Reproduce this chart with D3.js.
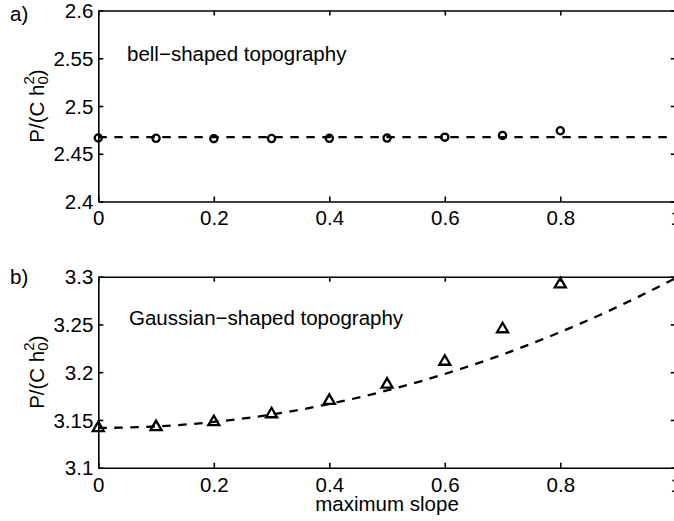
<!DOCTYPE html>
<html>
<head>
<meta charset="utf-8">
<script src="https://cdn.jsdelivr.net/npm/d3@7"></script>
<style>
  body { margin: 0; background: #fff; }
  svg { display: block; font-family: "Liberation Sans", Arial, sans-serif; }
</style>
</head>
<body>
<div id="chart"></div>
<script>
// data
const slopes = [0, 0.1, 0.2, 0.3, 0.4, 0.5, 0.6, 0.7, 0.8];
const bellP = [2.4665, 2.4662, 2.4658, 2.4659, 2.4661, 2.4664, 2.4674, 2.4692, 2.4741];
const gaussP = [3.1425, 3.1435, 3.1487, 3.1570, 3.1710, 3.1880, 3.2120, 3.2460, 3.2930];

// dashed reference curves
const bellRefX = [0, 1];
const bellRefP = [2.4674, 2.4674];
const gaussRefX = [0, 0.1, 0.2, 0.3, 0.4, 0.5, 0.6, 0.7, 0.8, 0.9, 1.0];
const gaussRefP = [3.1416, 3.1432, 3.1479, 3.1557, 3.1667, 3.1809, 3.1981, 3.2185, 3.2420, 3.2687, 3.2986];

const xTicks = [0, 0.2, 0.4, 0.6, 0.8, 1];
const bellTicks = [2.4, 2.45, 2.5, 2.55, 2.6];
const gaussTicks = [3.1, 3.15, 3.2, 3.25, 3.3];

const width = 674, height = 521;
const left = 98.3, right = 675.8;
const fontSize = "20.5px";

const svg = d3.select("#chart").append("svg")
    .attr("width", width)
    .attr("height", height);

const x = d3.scaleLinear().domain([0, 1]).range([left, right]);

function panel(opts) {
    const y = d3.scaleLinear().domain(opts.yDomain).range([opts.bottom, opts.top]);
    const g = svg.append("g");

    // axes (ticks point inward)
    const axB = g.append("g").attr("transform", `translate(0,${opts.bottom})`)
        .call(d3.axisBottom(x).tickValues(xTicks).tickSizeInner(-5).tickSizeOuter(0)
            .tickPadding(9.3).tickFormat(d => String(d)));
    const axT = g.append("g").attr("transform", `translate(0,${opts.top})`)
        .call(d3.axisTop(x).tickValues(xTicks).tickSizeInner(-5).tickSizeOuter(0).tickFormat(""));
    const axL = g.append("g").attr("transform", `translate(${left},0)`)
        .call(d3.axisLeft(y).tickValues(opts.yTicks).tickSizeInner(-5).tickSizeOuter(0)
            .tickPadding(5).tickFormat(d => String(d)));
    const axR = g.append("g").attr("transform", `translate(${right},0)`)
        .call(d3.axisRight(y).tickValues(opts.yTicks).tickSizeInner(-5).tickSizeOuter(0).tickFormat(""));

    [axB, axT, axL, axR].forEach(a => {
        a.selectAll("path, line").attr("stroke", "#000").attr("stroke-width", 1.6);
        a.selectAll("text").attr("fill", "#000").style("font-size", fontSize)
            .style("font-family", "'Liberation Sans', Arial, sans-serif");
    });
    axL.selectAll("text").attr("dy", "0.35em");

    // dashed reference
    const line = d3.line().x(d => x(d[0])).y(d => y(d[1])).curve(d3.curveMonotoneX);
    g.append("path")
        .datum(opts.refX.map((v, i) => [v, opts.refP[i]]))
        .attr("d", line)
        .attr("fill", "none")
        .attr("stroke", "#000")
        .attr("stroke-width", 2.3)
        .attr("stroke-dasharray", "8.5,7.5");

    // markers
    const pts = slopes.map((s, i) => [s, opts.values[i]]);
    if (opts.marker === "circle") {
        g.selectAll("circle.m").data(pts).join("circle")
            .attr("cx", d => x(d[0])).attr("cy", d => y(d[1]))
            .attr("r", 3.6)
            .attr("fill", "none").attr("stroke", "#000").attr("stroke-width", 2.3);
    } else {
        g.selectAll("path.m").data(pts).join("path")
            .attr("d", d => {
                const cx = x(d[0]), cy = y(d[1]);
                return `M${cx},${cy - 5.5}L${cx + 5.5},${cy + 4}L${cx - 5.5},${cy + 4}Z`;
            })
            .attr("fill", "none").attr("stroke", "#000").attr("stroke-width", 2.3)
            .attr("stroke-linejoin", "miter");
    }

    // panel letter
    svg.append("text").attr("x", 10).attr("y", opts.letterY)
        .style("font-size", fontSize).text(opts.letter);

    // annotation
    svg.append("text").attr("x", opts.noteX).attr("y", opts.noteY)
        .style("font-size", fontSize).text(opts.note);

    // y label: P/(C h_0^2)
    const cy = (opts.top + opts.bottom) / 2;
    const t = svg.append("text")
        .attr("transform", `translate(44,${cy}) rotate(-90)`)
        .attr("text-anchor", "middle")
        .style("font-size", fontSize);
    t.append("tspan").text("P/(C h");
    t.append("tspan").attr("dy", 4).style("font-size", "15px").text("0");
    t.append("tspan").attr("dx", -8.3).attr("dy", -14).style("font-size", "15px").text("2");
    t.append("tspan").attr("dy", 10).text(")");
}

panel({
    top: 10.5, bottom: 201.5, yDomain: [2.4, 2.6], yTicks: bellTicks,
    values: bellP, refX: bellRefX, refP: bellRefP, marker: "circle",
    letter: "a)", letterY: 21, note: "bell\u2212shaped topography", noteX: 127, noteY: 61
});

panel({
    top: 276.7, bottom: 467.7, yDomain: [3.1, 3.3], yTicks: gaussTicks,
    values: gaussP, refX: gaussRefX, refP: gaussRefP, marker: "triangle",
    letter: "b)", letterY: 284, note: "Gaussian\u2212shaped topography", noteX: 129, noteY: 325
});

svg.append("text")
    .attr("x", (left + right) / 2).attr("y", 511)
    .attr("text-anchor", "middle")
    .style("font-size", fontSize)
    .text("maximum slope");
</script>
</body>
</html>
